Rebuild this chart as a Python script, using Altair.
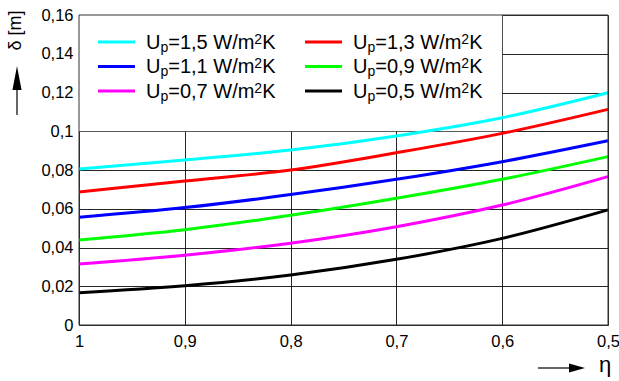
import altair as alt
import pandas as pd

# ---------------- data ----------------
eta = [1.0, 0.9, 0.8, 0.7, 0.6, 0.5]
u_values = ["1,5", "1,3", "1,1", "0,9", "0,7", "0,5"]
delta_u15 = [0.0805, 0.0852, 0.0903, 0.0976, 0.1070, 0.1199]
delta_u13 = [0.0687, 0.0743, 0.0800, 0.0889, 0.0989, 0.1113]
delta_u11 = [0.0556, 0.0606, 0.0673, 0.0752, 0.0843, 0.0951]
delta_u09 = [0.0439, 0.0492, 0.0566, 0.0654, 0.0752, 0.0869]
delta_u07 = [0.0315, 0.0360, 0.0422, 0.0507, 0.0619, 0.0766]
delta_u05 = [0.0167, 0.0203, 0.0258, 0.0339, 0.0447, 0.0594]
series_deltas = [delta_u15, delta_u13, delta_u11, delta_u09, delta_u07, delta_u05]
colors = ["#00FFFF", "#FF0000", "#0000FF", "#00FF00", "#FF00FF", "#000000"]
x_ticks = [1.0, 0.9, 0.8, 0.7, 0.6, 0.5]
y_ticks = [0, 0.02, 0.04, 0.06, 0.08, 0.1, 0.12, 0.14, 0.16]
legend_box_eta = [1.0, 0.6]
legend_box_delta = [0.1, 0.16]

labels = [f"U_p={u} W/m2K" for u in u_values]

rows = []
for lab, vals in zip(labels, series_deltas):
    for e, v in zip(eta, vals):
        rows.append({"eta": e, "delta": v, "series": lab})
df = pd.DataFrame(rows)

FONT = "Liberation Sans"

xscale = alt.Scale(domain=[min(x_ticks), max(x_ticks)], reverse=True, nice=False, zero=False)
yscale = alt.Scale(domain=[min(y_ticks), max(y_ticks)], nice=False)

xaxis = alt.Axis(values=x_ticks,
                 labelExpr="replace(format(datum.value, '.1~f'), '.', ',')",
                 grid=True, ticks=False, domain=False, labelFlush=False,
                 labelOverlap=False, labelPadding=8, labelFontSize=16.5,
                 labelFont=FONT, labelColor="#000", gridColor="#000",
                 gridOpacity=0.85, gridWidth=1, title=None)
yaxis = alt.Axis(values=y_ticks,
                 labelExpr="replace(format(datum.value, '.2~f'), '.', ',')",
                 grid=True, ticks=False, domain=False, labelOverlap=False,
                 labelFlush=False, labelPadding=6, labelFontSize=16.5,
                 labelFont=FONT, labelColor="#000", gridColor="#000",
                 gridOpacity=0.85, gridWidth=1,
                 title="δ [m]", titleX=-64, titleY=15, titleAngle=270,
                 titleAlign="center", titleBaseline="middle", titleFontSize=18,
                 titleFontWeight="normal", titleFont=FONT, titleColor="#000")

X = lambda: alt.X("eta:Q", scale=xscale, axis=xaxis)
Y = lambda: alt.Y("delta:Q", scale=yscale, axis=yaxis)

# white box behind legend (covers grid)
box_df = pd.DataFrame({"eta": [legend_box_eta[0]], "eta2": [legend_box_eta[1]],
                       "delta": [legend_box_delta[0]], "delta2": [legend_box_delta[1]]})
box = alt.Chart(box_df).mark_rect(fill="white").encode(
    x=X(), x2="eta2:Q", y=Y(), y2="delta2:Q")

lines = alt.Chart(df).mark_line(strokeWidth=3, interpolate="monotone").encode(
    x=X(), y=Y(),
    color=alt.Color("series:N", scale=alt.Scale(domain=labels, range=colors), legend=None),
)

frame_df = pd.DataFrame({"eta": [max(x_ticks)], "eta2": [min(x_ticks)],
                         "delta": [min(y_ticks)], "delta2": [max(y_ticks)]})
frame = alt.Chart(frame_df).mark_rect(fill="transparent", stroke="#333", strokeWidth=1).encode(
    x=X(), x2="eta2:Q", y=Y(), y2="delta2:Q")

anno = pd.DataFrame({"k": [0]})
layers = [box, lines, frame]

# axis arrows and eta title
layers.append(alt.Chart(anno).mark_rule(color="black", strokeWidth=1.2).encode(
    x=alt.value(-62), y=alt.value(74), y2=alt.value(100)))
layers.append(alt.Chart(anno).mark_point(shape="M0,-1L0.38,1L-0.38,1Z", filled=True,
                                         color="black", opacity=1, size=576, strokeWidth=0).encode(
    x=alt.value(-62), y=alt.value(63)))
layers.append(alt.Chart(anno).mark_rule(color="black", strokeWidth=1.2).encode(
    x=alt.value(459), x2=alt.value(491), y=alt.value(353)))
layers.append(alt.Chart(anno).mark_point(shape="M1,0L-1,-0.55L-1,0.55Z", filled=True,
                                         color="black", opacity=1, size=256, strokeWidth=0).encode(
    x=alt.value(498), y=alt.value(353)))
layers.append(alt.Chart(anno).mark_text(text="η", font=FONT, fontSize=22, align="center",
                                        baseline="alphabetic", color="black").encode(
    x=alt.value(526), y=alt.value(357)))

# manual legend with subscript / superscript
AW = {"U": 722, "p": 556, "=": 584, ",": 278, " ": 278, "W": 944, "/": 278,
      "m": 833, "K": 667, "2": 556}
for d in "0123456789":
    AW[d] = 556


def aw(s, size):
    return sum(AW[c] for c in s) * size / 1000.0


BIG, SMALL = 20, 14
for i, (u, col_hex) in enumerate(zip(u_values, colors)):
    col, row = i % 2, i // 2
    sx = (98 if col == 0 else 305) - 79
    cy = 42 + 24.5 * row - 15
    layers.append(alt.Chart(anno).mark_rule(color=col_hex, strokeWidth=3).encode(
        x=alt.value(sx), x2=alt.value(sx + 37), y=alt.value(cy)))
    tx = sx + 48
    pieces = [("U", BIG, cy + 6.5), ("p", SMALL, cy + 9.5), (f"={u} W/m", BIG, cy + 6.5),
              ("2", SMALL, cy + 1.5), ("K", BIG, cy + 6.5)]
    for txt, fs, by in pieces:
        layers.append(alt.Chart(anno).mark_text(text=txt, font=FONT, fontSize=fs, align="left",
                                                baseline="alphabetic", color="black").encode(
            x=alt.value(tx), y=alt.value(by)))
        tx += aw(txt, fs)

chart = alt.layer(*layers).properties(
    width=529, height=310,
    padding={"left": 79, "top": 15, "right": 11, "bottom": 56},
    autosize=alt.AutoSizeParams(type="none"),
    background="white",
).configure_view(stroke=None)

chart.save("out.html", embed_options={"renderer": "svg", "actions": False})
